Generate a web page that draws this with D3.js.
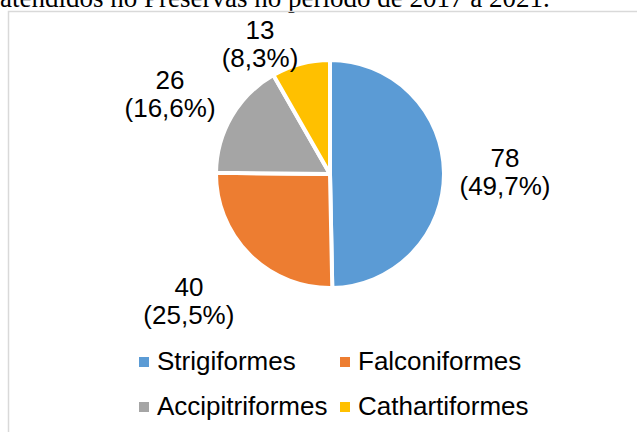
<!DOCTYPE html>
<html>
<head>
<meta charset="utf-8">
<script src="https://cdn.jsdelivr.net/npm/d3@7"></script>
<style>
  body { margin: 0; background: #fff; }
  svg { display: block; }
</style>
</head>
<body>
<svg id="chart"></svg>
<script>
// data
const categories = ["Strigiformes", "Falconiformes", "Accipitriformes", "Cathartiformes"];
const counts = [78, 40, 26, 13];
const percentLabels = ["49,7%", "25,5%", "16,6%", "8,3%"];
const colors = ["#5B9BD5", "#ED7D31", "#A5A5A5", "#FFC000"];
const caption = "atendidos no Preservas no período de 2017 a 2021.";

const width = 637;
const height = 432;

const svg = d3.select("#chart").attr("width", width).attr("height", height);

// caption text cut off above the chart box
svg.append("text")
  .attr("x", 0)
  .attr("y", 7)
  .style("font-family", "'Liberation Serif', 'Times New Roman', serif")
  .style("font-size", "27px")
  .attr("fill", "#000")
  .text(caption);

// chart box (right and bottom edges are outside the crop)
svg.append("rect")
  .attr("x", 8.5)
  .attr("y", 11.5)
  .attr("width", 700)
  .attr("height", 500)
  .attr("fill", "none")
  .attr("stroke", "#d9d9d9")
  .attr("stroke-width", 1.5);

const cx = 330;
const cy = 174;
const radius = 114;

const color = d3.scaleOrdinal().domain(categories).range(colors);

const pie = d3.pie().sort(null).value((d) => d.count);
const arcs = pie(categories.map((c, i) => ({ name: c, count: counts[i], pct: percentLabels[i] })));

const arc = d3.arc().innerRadius(0).outerRadius(radius);
const labelArc = d3.arc().innerRadius(175).outerRadius(175);

const g = svg.append("g").attr("transform", `translate(${cx},${cy})`);

g.selectAll("path")
  .data(arcs)
  .join("path")
  .attr("d", arc)
  .attr("fill", (d) => color(d.data.name))
  .attr("stroke", "#fff")
  .attr("stroke-width", 4)
  .attr("stroke-linejoin", "round");

// excel moved a few labels around, nudge them to match
const nudge = {
  Strigiformes: [0, 1],
  Falconiformes: [-18, 4],
  Accipitriformes: [-9, 10],
  Cathartiformes: [-25, 41],
};

const labels = g.selectAll(".slice-label")
  .data(arcs)
  .join("text")
  .attr("class", "slice-label")
  .attr("text-anchor", "middle")
  .style("font-family", "'Liberation Sans', Arial, sans-serif")
  .style("font-size", "26px")
  .attr("fill", "#000")
  .attr("transform", (d) => {
    const [x, y] = labelArc.centroid(d);
    const [dx, dy] = nudge[d.data.name];
    return `translate(${x + dx},${y + dy})`;
  });

labels.append("tspan").attr("x", 0).attr("y", -6.5).text((d) => d.data.count);
labels.append("tspan").attr("x", 0).attr("y", 21.5).text((d) => `(${d.data.pct})`);

// legend, two columns
const legendCols = [139, 340];
const legendRows = [370, 415];

const legend = svg.append("g").attr("class", "legend");

const items = legend.selectAll(".legend-item")
  .data(categories)
  .join("g")
  .attr("class", "legend-item")
  .attr("transform", (d, i) => `translate(${legendCols[i % 2]},${legendRows[Math.floor(i / 2)]})`);

items.append("rect")
  .attr("x", 0)
  .attr("y", -13)
  .attr("width", 10)
  .attr("height", 10)
  .attr("fill", (d) => color(d));

items.append("text")
  .attr("x", 18)
  .attr("y", 0)
  .style("font-family", "'Liberation Sans', Arial, sans-serif")
  .style("font-size", "26px")
  .attr("fill", "#000")
  .text((d) => d);
</script>
</body>
</html>
